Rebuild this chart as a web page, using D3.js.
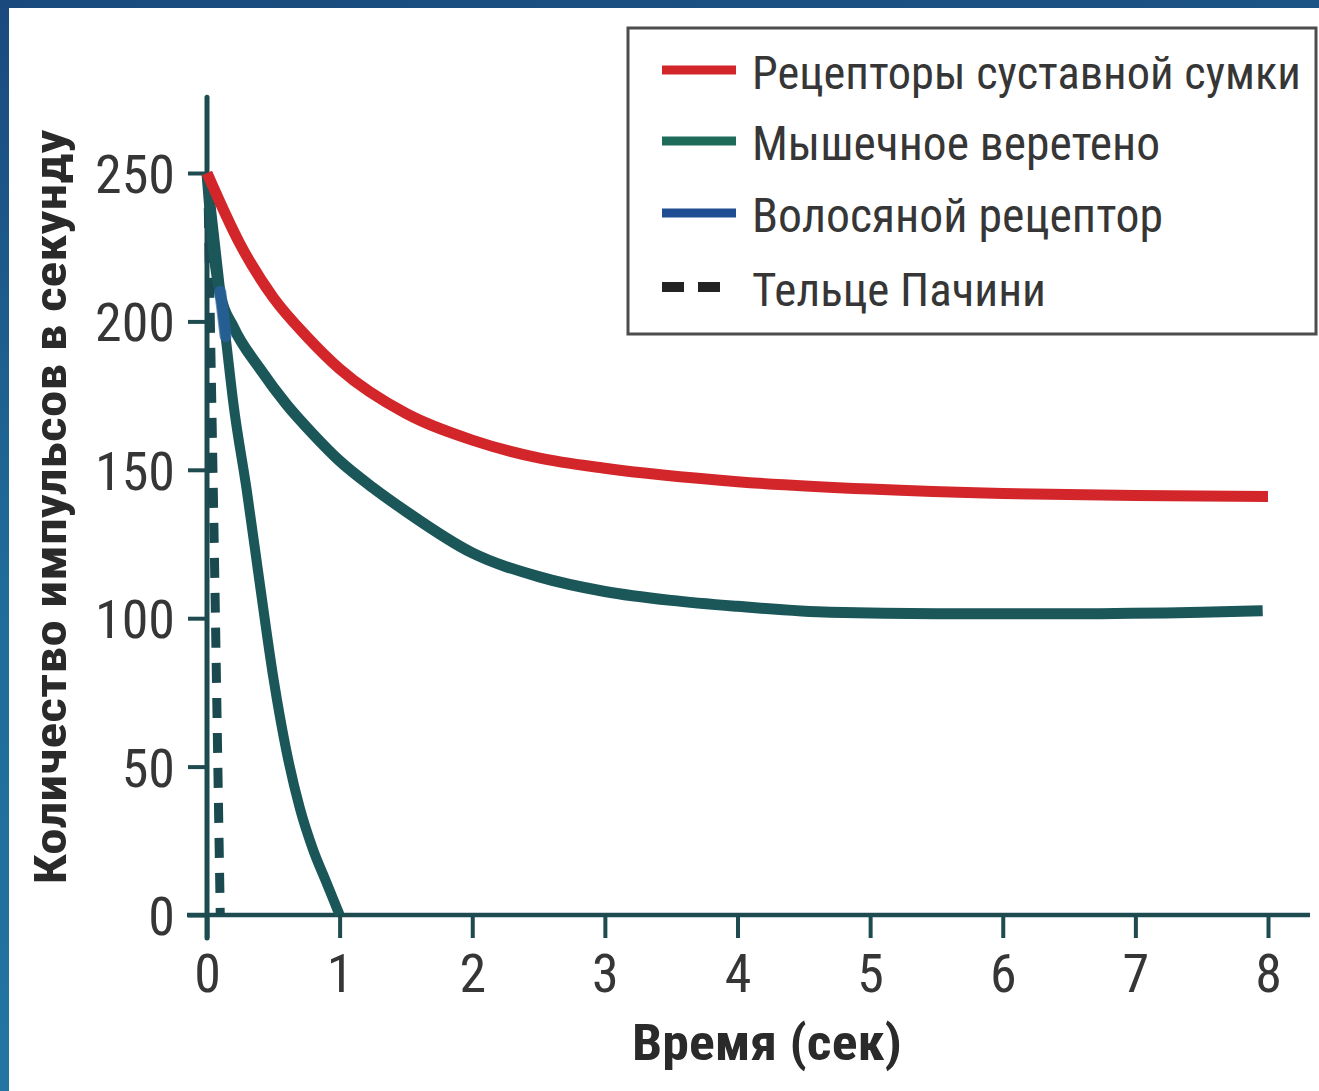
<!DOCTYPE html>
<html>
<head>
<meta charset="utf-8">
<script src="https://cdn.jsdelivr.net/npm/d3@7"></script>
<style>
  html, body { margin: 0; padding: 0; background: #ffffff; }
  svg { display: block; }
</style>
</head>
<body>
<svg id="chart" width="1319" height="1091"></svg>
<script>
// ---- data (time in seconds, impulses per second) ----
const seriesNames = [
  "Рецепторы суставной сумки",
  "Мышечное веретено",
  "Волосяной рецептор",
  "Тельце Пачини"
];
const jointTime   = [0, 0.25, 0.5, 0.75, 1.0, 1.5, 2.0, 2.5, 3.0, 4.0, 5.0, 6.0, 7.0, 8.0];
const jointValues = [250, 226, 208, 195, 184, 169, 160, 154, 150.5, 146, 143.5, 142, 141.3, 141];

const spindleTime   = [0, 0.05, 0.1, 0.2, 0.4, 0.6, 0.8, 1.0, 1.25, 1.5, 2.0, 2.5, 3.0, 3.5, 4.0, 4.7, 5.5, 6.5, 7.5, 7.96];
const spindleValues = [250, 224, 209, 198, 184, 172, 162, 153, 144, 136, 122, 114, 109, 106, 104, 102, 101.5, 101.5, 102, 102.5];

const hairTime   = [0, 0.04, 0.08, 0.1, 0.14, 0.2, 0.3, 0.4, 0.5, 0.6, 0.7, 0.8, 0.9, 1.0];
const hairValues = [250, 234, 218, 210, 195, 172, 143, 111, 80, 55, 36, 22, 11, 0];

const pacinianTime   = [0.005, 0.035, 0.06, 0.08, 0.1];
const pacinianValues = [250, 175, 110, 55, 0];

const xTicks = [0, 1, 2, 3, 4, 5, 6, 7, 8];
const yTicks = [0, 50, 100, 150, 200, 250];
const xTitle = "Время (сек)";
const yTitle = "Количество импульсов в секунду";

// ---- styling ----
const narrow = "'Liberation Sans Narrow', 'Roboto Condensed', 'DejaVu Sans Condensed', 'Arial Narrow', sans-serif";
const axisColor = "#1d4b4f";
const textColor = "#363636";
const colors = {
  joint: "#d3262b",
  spindle: "#1b5659",
  hair: "#1b5659",
  hairTrace: "#2a63a8",
  pacinian: "#1a4a4f",
  legendSpindle: "#1f6b5a",
  legendHair: "#1f4f92",
  legendPacinian: "#232323"
};

const svg = d3.select("#chart");
const W = 1319, H = 1091;

// framed background
const defs = svg.append("defs");
const grad = defs.append("linearGradient").attr("id", "frame")
  .attr("x1", "0").attr("y1", "0").attr("x2", "0.15").attr("y2", "1");
grad.append("stop").attr("offset", "0").attr("stop-color", "#1a4a7d");
grad.append("stop").attr("offset", "0.5").attr("stop-color", "#1f6a98");
grad.append("stop").attr("offset", "1").attr("stop-color", "#2275a3");
svg.append("rect").attr("width", W).attr("height", H).attr("fill", "url(#frame)");
svg.append("rect").attr("x", 9).attr("y", 8).attr("width", W - 9).attr("height", H - 8).attr("fill", "#ffffff");

// scales
const x = d3.scaleLinear().domain([0, 8]).range([207, 1268]);
const y = d3.scaleLinear().domain([0, 250]).range([915, 173]);

// axes
const gx = svg.append("g").attr("transform", `translate(0,${y(0)})`)
  .call(d3.axisBottom(x).tickValues(xTicks).tickSize(23).tickPadding(16).tickFormat(d3.format("d")));
const gy = svg.append("g").attr("transform", `translate(${x(0)},0)`)
  .call(d3.axisLeft(y).tickValues(yTicks).tickSize(19).tickPadding(13).tickFormat(d3.format("d")));

[gx, gy].forEach(g => {
  g.select(".domain").remove();
  g.selectAll(".tick line").attr("stroke", axisColor).attr("stroke-width", 4);
  g.selectAll(".tick text")
    .attr("fill", textColor)
    .style("font-family", narrow)
    .style("font-size", "54px");
});
gx.selectAll(".tick text").attr("dy", "0.71em");
gy.selectAll(".tick text").attr("dy", "0.36em");

// axis lines
svg.append("line")
  .attr("x1", x(0) - 20).attr("x2", x(8) + 42)
  .attr("y1", y(0)).attr("y2", y(0))
  .attr("stroke", axisColor).attr("stroke-width", 4.5);
svg.append("line")
  .attr("x1", x(0)).attr("x2", x(0))
  .attr("y1", y(0) + 23).attr("y2", y(275.5))
  .attr("stroke", axisColor).attr("stroke-width", 5).attr("stroke-linecap", "round");

// curves
const line = d3.line()
  .x(d => x(d[0])).y(d => y(d[1]))
  .curve(d3.curveMonotoneX);
const zip = (a, b) => a.map((v, i) => [v, b[i]]);

const plot = svg.append("g").attr("fill", "none");

plot.append("path").datum(zip(pacinianTime, pacinianValues))
  .attr("d", line)
  .attr("stroke", colors.pacinian).attr("stroke-width", 9)
  .attr("stroke-dasharray", "20 15");

plot.append("path").datum(zip(hairTime, hairValues))
  .attr("d", line)
  .attr("stroke", colors.hair).attr("stroke-width", 10);

plot.append("path").datum(zip(spindleTime, spindleValues))
  .attr("d", line)
  .attr("stroke", colors.spindle).attr("stroke-width", 11);

// the blue hair-receptor trace shows through just below the top cluster
plot.append("path").datum(zip(hairTime, hairValues).filter(d => d[0] >= 0.1 && d[0] <= 0.14))
  .attr("d", line)
  .attr("stroke", colors.hairTrace).attr("stroke-width", 12)
  .attr("stroke-linecap", "round").attr("opacity", 0.7);

plot.append("path").datum(zip(jointTime, jointValues))
  .attr("d", line)
  .attr("stroke", colors.joint).attr("stroke-width", 11);

// text fitted to a target width: shrink the font if the natural run is wider
function fitText(sel, size, width) {
  sel.style("font-size", size + "px");
  const natural = sel.node().getComputedTextLength();
  if (natural > width) sel.style("font-size", (size * width / natural).toFixed(2) + "px");
  sel.attr("textLength", width).attr("lengthAdjust", "spacingAndGlyphs");
  return sel;
}

// axis titles
fitText(svg.append("text")
  .attr("x", 767).attr("y", 1060)
  .attr("text-anchor", "middle")
  .attr("fill", "#2a2a2a")
  .style("font-family", narrow).style("font-weight", "bold")
  .text(xTitle), 50, 270);

fitText(svg.append("text")
  .attr("transform", "translate(66,507) rotate(-90)")
  .attr("text-anchor", "middle")
  .attr("fill", "#2a2a2a")
  .style("font-family", narrow).style("font-weight", "bold")
  .text(yTitle), 44, 755);

// legend
const legend = svg.append("g");
legend.append("rect")
  .attr("x", 628).attr("y", 28).attr("width", 688).attr("height", 306)
  .attr("fill", "#ffffff").attr("stroke", "#4d4d4d").attr("stroke-width", 3);

const legendRows = [
  { name: seriesNames[0], color: colors.joint, dash: null, width: 549 },
  { name: seriesNames[1], color: colors.legendSpindle, dash: null, width: 408 },
  { name: seriesNames[2], color: colors.legendHair, dash: null, width: 411 },
  { name: seriesNames[3], color: colors.legendPacinian, dash: "22 14", width: 294 }
];
const rowY = [70, 141, 213, 287];
legendRows.forEach((r, i) => {
  legend.append("line")
    .attr("x1", 662).attr("x2", r.dash ? 720 : 736)
    .attr("y1", rowY[i]).attr("y2", rowY[i])
    .attr("stroke", r.color).attr("stroke-width", r.dash ? 10 : 9)
    .attr("stroke-dasharray", r.dash);
  fitText(legend.append("text")
    .attr("x", 752).attr("y", rowY[i] + 19)
    .attr("fill", textColor)
    .style("font-family", narrow)
    .text(r.name), 52, r.width);
});
</script>
</body>
</html>
